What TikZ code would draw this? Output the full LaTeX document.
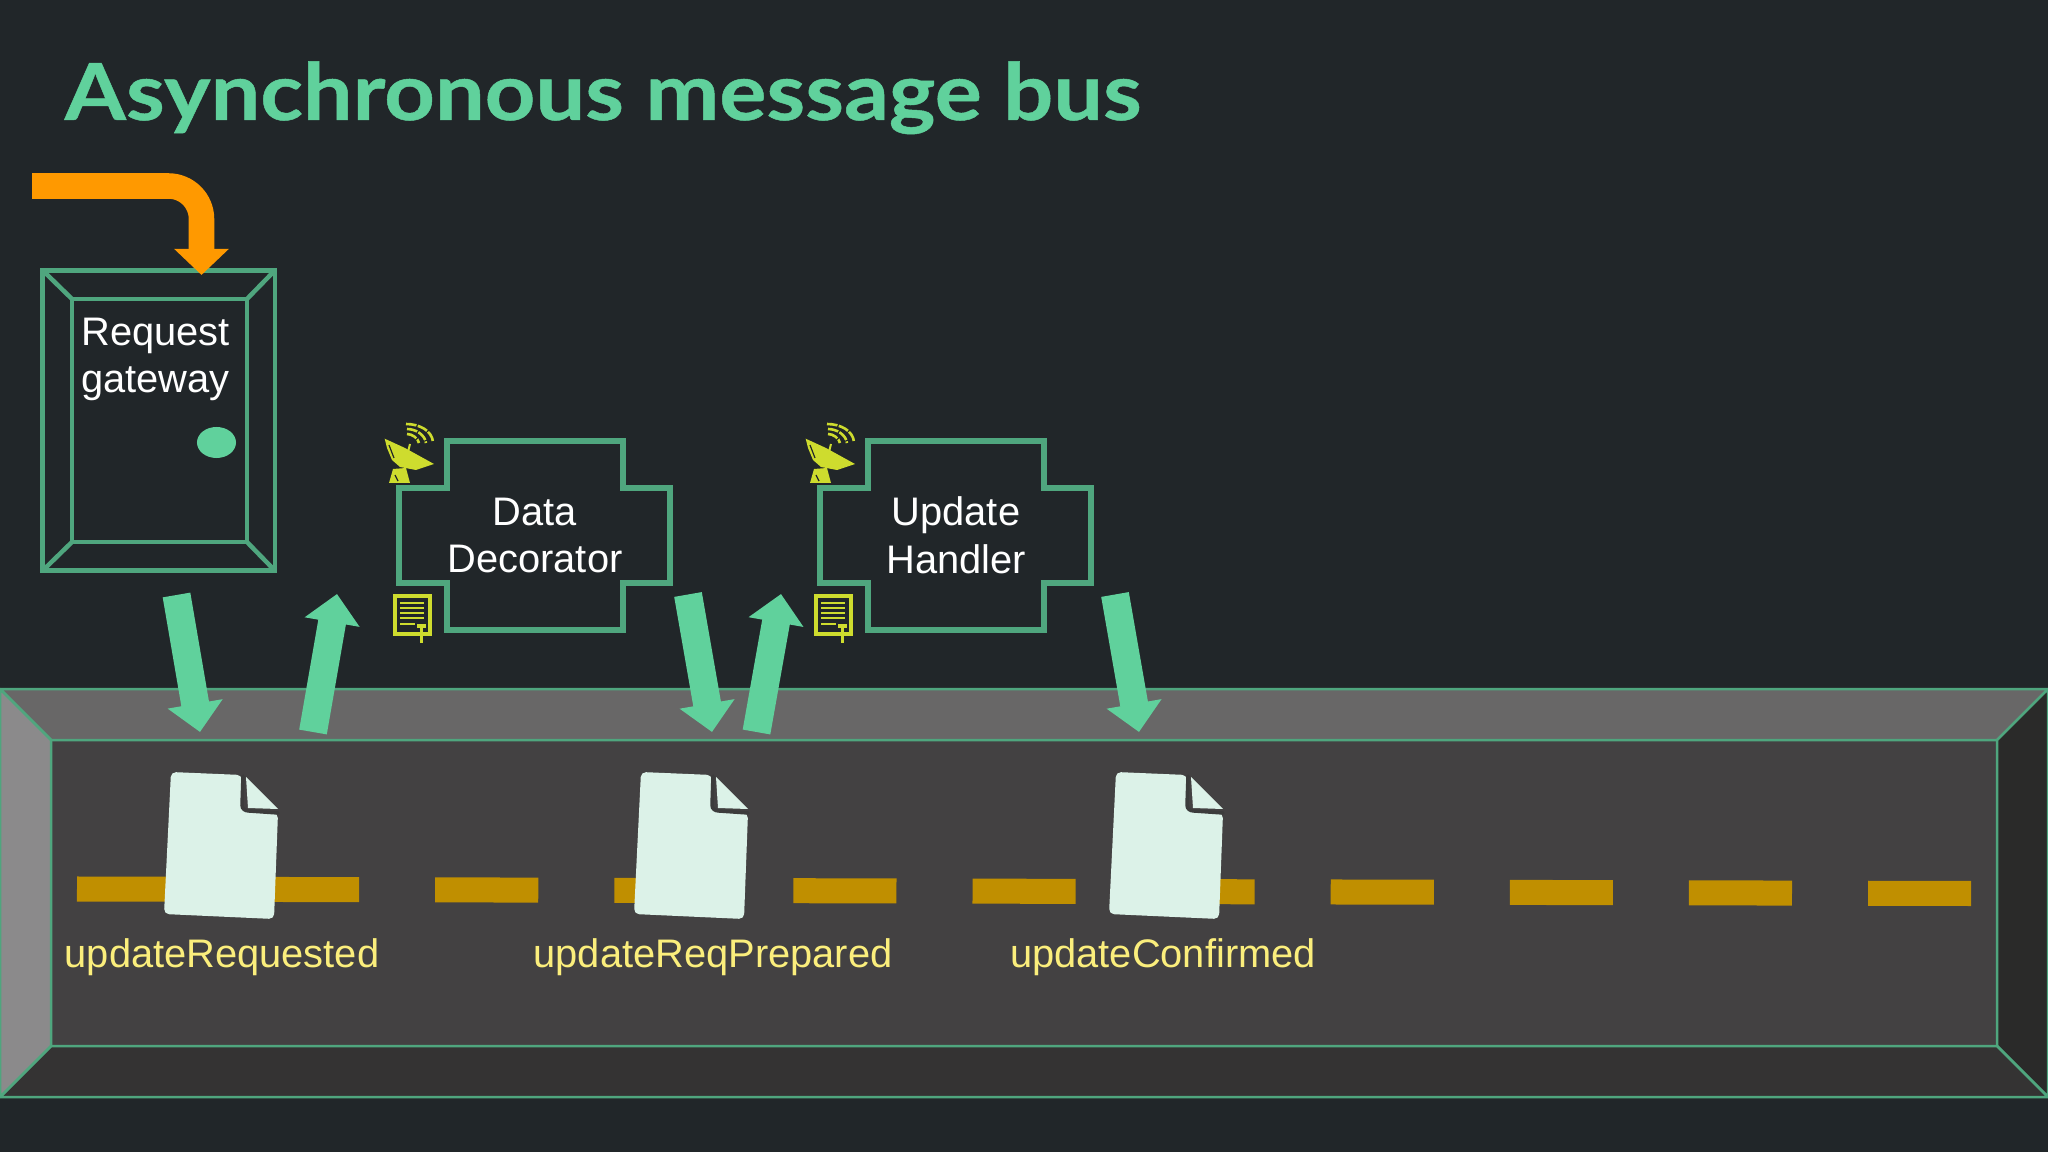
\documentclass[tikz,border=0pt]{standalone}
\usepackage{fontspec}
\setmainfont{Liberation Sans}
\newfontfamily\titlefont{Lato}[BoldFont=* Bold, BoldFeatures={FakeStretch=1.12, FakeBold=0.6}]
\usetikzlibrary{arrows.meta,calc,shapes.geometric}

\definecolor{slidebg}{HTML}{212629}
\definecolor{linegreen}{HTML}{4FA67E}
\definecolor{mint}{HTML}{60D19C}
\definecolor{flow}{HTML}{FF9900}
\definecolor{topband}{HTML}{686767}
\definecolor{leftband}{HTML}{8B8A8B}
\definecolor{bottomband}{HTML}{343333}
\definecolor{rightband}{HTML}{2A2A29}
\definecolor{busfront}{HTML}{434142}
\definecolor{dashgold}{HTML}{C08F00}
\definecolor{paper}{HTML}{DCF2E8}
\definecolor{foldline}{HTML}{3C3C3C}
\definecolor{eventtext}{HTML}{FBEE7C}
\definecolor{iconlime}{HTML}{CEDC2E}

\tikzset{
  boxtext/.style={white, font=\fontsize{11.33}{13.6}\selectfont, align=center, inner sep=0pt},
  eventlabel/.style={eventtext, font=\fontsize{11.33}{13.6}\selectfont, anchor=base, inner sep=0pt},
  doorline/.style={draw=linegreen, line width=0.045cm, outer sep=0pt, inner sep=0pt},
  busedge/.style={draw=linegreen, line width=0.025cm, line join=round},
  flowarrow/.style={mint, line width=0.28cm, -{Triangle[length=0.285cm,width=0.54cm]}},
  plusbox/.pic={
    \draw[linegreen, line width=0.06cm]
      (-88,-94.5) -- (88,-94.5) -- (88,-47.5) -- (135.5,-47.5) -- (135.5,47.5) -- (88,47.5)
      -- (88,94.5) -- (-88,94.5) -- (-88,47.5) -- (-135.5,47.5) -- (-135.5,-47.5) -- (-88,-47.5) -- cycle;
  },
  dishicon/.pic={
    \fill[iconlime] (4.7,20.7) -- (25,30) -- (54,46) -- (36,52) -- (20,49) -- (12,42) -- (7,30) -- cycle;
    \fill[iconlime] (13,51) -- (26,50) -- (30,65) -- (9,65) -- cycle;
    \draw[slidebg, line width=0.012cm] (9,27) -- (14,40);
    \draw[slidebg, line width=0.012cm] (15,57) -- (18,63);
    \draw[iconlime, line width=0.02cm] (28,34) -- (30,26);
    \draw[iconlime, line width=0.026cm, dash pattern=on 3pt off 0.4pt]
      (26,6) .. controls (40,6) and (52,13) .. (53,24);
    \draw[iconlime, line width=0.026cm, dash pattern=on 3pt off 0.4pt]
      (27,11) .. controls (36,11) and (45,17) .. (46,25);
    \draw[iconlime, line width=0.026cm, dash pattern=on 3pt off 0.4pt]
      (27,16) .. controls (32,16) and (38,20) .. (39,25);
  },
  noteicon/.pic={
    \draw[iconlime, line width=0.035cm] (9,8) rectangle (44,46);
    \foreach \liney in {15,20,25,30} {
      \draw[iconlime, line width=0.02cm] (14,\liney) -- (38,\liney);
    }
    \draw[iconlime, line width=0.016cm] (14,36) -- (29,36);
    \draw[iconlime, line width=0.035cm] (31,38) -- (40,38);
    \draw[iconlime, line width=0.03cm] (35,38) -- (35,55);
  },
  docicon/.pic={
    \fill[paper, rounded corners=0.05cm] (0,0) -- (71,3) -- (70,33) -- (74,39) -- (107,41)
      -- (103,147) -- (-7,142) -- cycle;
    \draw[foldline, line width=0.035cm, line cap=round] (72,4) -- (71,33)
      .. controls (71,37) and (74,39) .. (78,39) -- (107,41);
    \fill[paper] (75,5) -- (107,37) -- (77,36) -- cycle;
  }
}

\begin{document}
\begin{tikzpicture}[x=0.01cm, y=-0.01cm]
    \useasboundingbox[fill=slidebg] (0,0) rectangle (2048,1152);

    \node[anchor=base west, inner sep=0pt, mint] (slidetitle) at (64,120)
      {\fontsize{22.4}{26}\selectfont\titlefont\bfseries Asynchronous message bus};

    % bus
    \coordinate (BO1) at (0,689);
    \coordinate (BO2) at (2048,689);
    \coordinate (BO3) at (2048,1097);
    \coordinate (BO4) at (0,1097);
    \coordinate (BI1) at (51,740);
    \coordinate (BI2) at (1997,740);
    \coordinate (BI3) at (1997,1046);
    \coordinate (BI4) at (51,1046);

    \fill[busfront] (BI1) rectangle (BI3);
    \draw[busedge, fill=topband] (BO1) -- (BO2) -- (BI2) -- (BI1) -- cycle;
    \draw[busedge, fill=rightband] (BO2) -- (BO3) -- (BI3) -- (BI2) -- cycle;
    \draw[busedge, fill=bottomband] (BO3) -- (BO4) -- (BI4) -- (BI3) -- cycle;
    \draw[busedge, fill=leftband] (BO4) -- (BO1) -- (BI1) -- (BI4) -- cycle;

    \coordinate (dashstart) at (77,889);
    \coordinate (dashend) at (1972,893.5);
    \draw[dashgold, line width=0.25cm, dash pattern=on 1.03cm off 0.76cm] (dashstart) -- (dashend);

    \pic at (171,772) {docicon};
    \pic at (641,772) {docicon};
    \pic at (1116,772) {docicon};

    \node[eventlabel] (requested) at (222,967) {updateRequested};
    \node[eventlabel] (prepared) at (713,967) {updateReqPrepared};
    \node[eventlabel] (confirmed) at (1163,967) {updateConfirmed};

    % door
    \node[doorline, minimum width=2.32cm, minimum height=3cm] (doorouter) at (158.8,420.5) {};
    \node[doorline, minimum width=1.75cm, minimum height=2.43cm] (doorinner) at (159.5,420.5) {};
    \draw[doorline] (doorouter.north west) -- (doorinner.north west);
    \draw[doorline] (doorouter.north east) -- (doorinner.north east);
    \draw[doorline] (doorouter.south west) -- (doorinner.south west);
    \draw[doorline] (doorouter.south east) -- (doorinner.south east);
    \node[boxtext] (gatewaytext) at (155.5,359.5) {Request\\gateway};
    \node[ellipse, fill=mint, minimum width=0.39cm, minimum height=0.31cm, inner sep=0pt] (doorknob) at (216.5,442.5) {};

    \coordinate (entry) at (32,186);
    \coordinate (entrytip) at (201.5,275);
    \draw[flow, line width=0.255cm, rounded corners=0.33cm, -{Triangle[length=0.26cm,width=0.53cm]}]
      (entry) -| (entrytip);

    % services
    \pic at (534.5,535.5) {plusbox};
    \pic at (955.5,535.5) {plusbox};
    \node[boxtext] (decorator) at (535,535.5) {Data\\Decorator};
    \node[boxtext] (handler) at (956,535) {Update\\Handler};

    \pic at (380,418) {dishicon};
    \pic at (801,418) {dishicon};
    \pic at (386,588) {noteicon};
    \pic at (807,588) {noteicon};

    % flows to and from the bus
    \coordinate (F1a) at (176.5,595);
    \coordinate (F1b) at (200,732);
    \coordinate (F2a) at (313,732);
    \coordinate (F2b) at (337,594);
    \coordinate (F3a) at (688,594.5);
    \coordinate (F3b) at (712,732);
    \coordinate (F4a) at (756.5,732);
    \coordinate (F4b) at (781,594);
    \coordinate (F5a) at (1115,594.5);
    \coordinate (F5b) at (1139,732);

    \draw[flowarrow] (F1a) -- (F1b);
    \draw[flowarrow] (F2a) -- (F2b);
    \draw[flowarrow] (F3a) -- (F3b);
    \draw[flowarrow] (F4a) -- (F4b);
    \draw[flowarrow] (F5a) -- (F5b);

\end{tikzpicture}
\end{document}
